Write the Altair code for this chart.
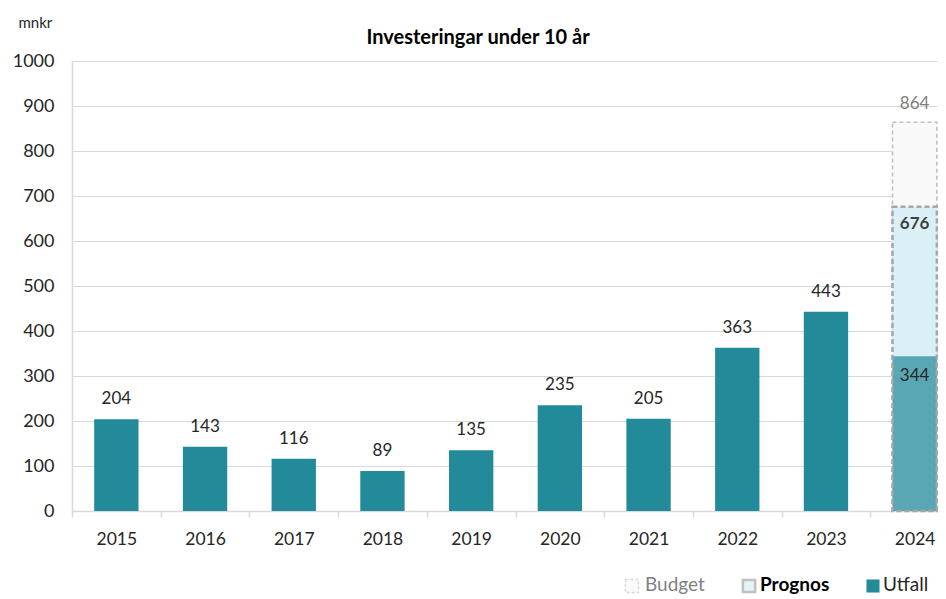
import altair as alt
import pandas as pd

years = [2015, 2016, 2017, 2018, 2019, 2020, 2021, 2022, 2023]
utfall = [204, 143, 116, 89, 135, 235, 205, 363, 443]
year_2024 = 2024
budget_2024 = 864
prognos_2024 = 676
utfall_2024 = 344
legend_labels = ["Budget", "Prognos", "Utfall"]
title_text = "Investeringar under 10 år"
unit_text = "mnkr"

FONT = "Lato"
W, H = 866, 450
X_DOMAIN = [2014.5, 2024.263]
HALF = 0.25

df = pd.DataFrame({"year": years, "value": utfall})
df["x0"] = df["year"] - HALF
df["x1"] = df["year"] + HALF
df["label"] = df["value"].astype(str)

d24 = pd.DataFrame({
    "year": [year_2024],
    "x0": [year_2024 - HALF],
    "x1": [year_2024 + HALF],
    "budget": [budget_2024],
    "prognos": [prognos_2024],
    "utfall": [utfall_2024],
    "bl": [str(budget_2024)],
    "pl": [str(prognos_2024)],
    "ul": [str(utfall_2024)],
})

xscale = alt.Scale(domain=X_DOMAIN, nice=False, zero=False)
yscale = alt.Scale(domain=[0, 1000], nice=False)

boundaries = [y - 0.5 for y in years + [year_2024]]

x_axis = alt.Axis(
    values=boundaries, labelExpr="format(datum.value + 0.5, 'd')", title=None,
    grid=False, domainColor="#d9d9d9", tickColor="#d9d9d9", tickSize=6,
    tickWidth=1.5, labelOffset=44.35, labelFlush=False, labelOverlap=False,
    labelBound=False, labelFont=FONT, labelFontSize=17.5, labelColor="#262626",
    labelPadding=13, domainWidth=1.5,
)
y_axis = alt.Axis(
    values=list(range(0, 1001, 100)), format="d", title=unit_text, titleAngle=0,
    titleX=-54, titleY=-39, titleAlign="left", titleBaseline="middle",
    titleFontWeight="normal", titleFont=FONT, titleFontSize=15,
    titleColor="#262626", grid=True, gridColor="#d9d9d9", gridWidth=1.2,
    domainColor="#d9d9d9", domainWidth=1.5, ticks=False, labelFont=FONT,
    labelFontSize=18, labelColor="#262626", labelPadding=18,
)

bars = alt.Chart(df).mark_bar(color="#238A9A").encode(
    x=alt.X("x0:Q", scale=xscale, axis=x_axis),
    x2="x1:Q",
    y=alt.Y("value:Q", scale=yscale, axis=y_axis),
    y2=alt.datum(0),
)
bar_labels = alt.Chart(df).mark_text(
    font=FONT, fontSize=17, color="#262626", baseline="middle", dy=-20
).encode(x=alt.X("year:Q", scale=xscale), y=alt.Y("value:Q", scale=yscale), text="label:N")

budget = alt.Chart(d24).mark_bar(
    fill="#F9F9F9", stroke="#BFBFBF", strokeDash=[4, 3], strokeWidth=1.6
).encode(x=alt.X("x0:Q", scale=xscale), x2="x1:Q",
         y=alt.Y("budget:Q", scale=yscale), y2=alt.datum(0))
prognos_fill = alt.Chart(d24).mark_bar(fill="#DAF0F6").encode(
    x=alt.X("x0:Q", scale=xscale), x2="x1:Q",
    y=alt.Y("prognos:Q", scale=yscale), y2=alt.datum(0))
utf24 = alt.Chart(d24).mark_bar(fill="#59A7B5").encode(
    x=alt.X("x0:Q", scale=xscale), x2="x1:Q",
    y=alt.Y("utfall:Q", scale=yscale), y2=alt.datum(0))
prognos_line = alt.Chart(d24).mark_bar(
    fillOpacity=0, stroke="#A6A6A6", strokeDash=[5, 3], strokeWidth=2.5
).encode(x=alt.X("x0:Q", scale=xscale), x2="x1:Q",
         y=alt.Y("prognos:Q", scale=yscale), y2=alt.datum(0))

lb_budget = alt.Chart(d24).mark_text(
    font=FONT, fontSize=17, color="#7F7F7F", baseline="middle", dy=-18
).encode(x=alt.X("year:Q", scale=xscale), y=alt.Y("budget:Q", scale=yscale), text="bl:N")
lb_prognos = alt.Chart(d24).mark_text(
    font=FONT, fontSize=17, fontWeight="bold", color="#404040", baseline="middle", dy=17
).encode(x=alt.X("year:Q", scale=xscale), y=alt.Y("prognos:Q", scale=yscale), text="pl:N")
lb_utfall = alt.Chart(d24).mark_text(
    font=FONT, fontSize=17, color="#262626", baseline="middle", dy=20
).encode(x=alt.X("year:Q", scale=xscale), y=alt.Y("utfall:Q", scale=yscale), text="ul:N")

one = pd.DataFrame({"t": [title_text]})
title = alt.Chart(one).mark_text(
    font=FONT, fontSize=20, fontWeight="bold", color="#000000", baseline="middle"
).encode(x=alt.value(406), y=alt.value(-23), text="t:N")

# legend (manual)
leg_y = 524
LFS = 19
sym_budget = alt.Chart(one).mark_square(
    size=170, fill="#F9F9F9", stroke="#C8C8C8", strokeDash=[3, 2], strokeWidth=1.5
).encode(x=alt.value(560), y=alt.value(leg_y + 1))
sym_prognos = alt.Chart(one).mark_square(
    size=150, fill="#DAF0F6", stroke="#A6A6A6", strokeWidth=2.5
).encode(x=alt.value(677), y=alt.value(leg_y + 1))
sym_utfall = alt.Chart(one).mark_square(size=170, fill="#238A9A", opacity=1).encode(
    x=alt.value(801), y=alt.value(leg_y + 1))
t_budget = alt.Chart(pd.DataFrame({"t": [legend_labels[0]]})).mark_text(
    font=FONT, fontSize=LFS, color="#7F7F7F", align="left", baseline="middle"
).encode(x=alt.value(573), y=alt.value(leg_y), text="t:N")
t_prognos = alt.Chart(pd.DataFrame({"t": [legend_labels[1]]})).mark_text(
    font=FONT, fontSize=LFS, fontWeight="bold", color="#000000", align="left", baseline="middle"
).encode(x=alt.value(688), y=alt.value(leg_y), text="t:N")
t_utfall = alt.Chart(pd.DataFrame({"t": [legend_labels[2]]})).mark_text(
    font=FONT, fontSize=LFS, color="#262626", align="left", baseline="middle"
).encode(x=alt.value(811), y=alt.value(leg_y), text="t:N")

chart = alt.layer(
    bars, budget, prognos_fill, utf24, prognos_line,
    bar_labels, lb_budget, lb_prognos, lb_utfall, title,
    sym_budget, sym_prognos, sym_utfall, t_budget, t_prognos, t_utfall,
).properties(
    width=W, height=H,
    autosize=alt.AutoSizeParams(type="none"),
    padding={"left": 64, "top": 53, "right": 0, "bottom": 88},
).configure_view(stroke=None).configure(background="white")

chart.save("out.html", embed_options={"renderer": "svg", "actions": False})
